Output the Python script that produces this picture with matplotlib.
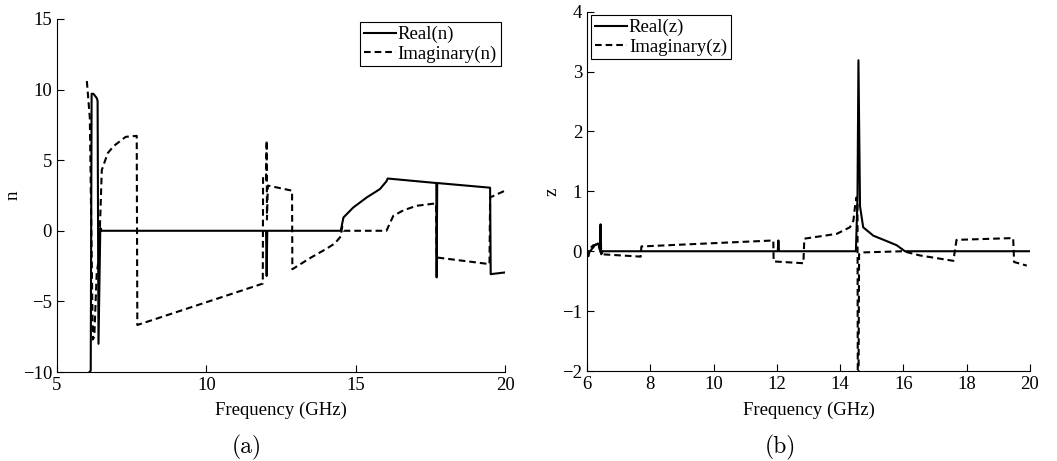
import matplotlib
matplotlib.use('Agg')
import matplotlib.pyplot as plt

plt.rcParams['font.family'] = ['Liberation Serif', 'DejaVu Serif']
plt.rcParams['font.size'] = 13.5
plt.rcParams['mathtext.fontset'] = 'cm'

# ---- panel (a): refractive index n ----
freq_n_re = [6.00, 6.13, 6.16, 6.22, 6.33, 6.36, 6.39, 6.45, 6.50, 12.00, 12.02, 12.04,
             14.50, 14.59, 14.92, 15.37, 15.81, 16.03, 16.07, 17.70, 17.71, 17.73,
             19.50, 19.52, 20.00]
n_re = [-10.2, -9.9, 9.7, 9.7, 9.4, 9.2, -8.0, 0.2, 0.0, 0.0, -3.2, 0.0,
        0.0, 0.94, 1.65, 2.36, 2.95, 3.5, 3.7, 3.38, -3.3, 3.38,
        3.05, -3.07, -2.95]

freq_n_im = [6.00, 6.10, 6.20, 6.25, 6.33, 6.40, 6.45, 6.50, 6.70, 6.90, 7.30, 7.67,
             7.69, 11.89, 11.90, 12.00, 12.02, 12.03, 12.06, 12.87, 12.88, 13.50,
             14.00, 14.30, 14.50, 14.55, 14.60, 16.03, 16.26, 16.60, 17.04, 17.69,
             17.71, 19.48, 19.50, 20.00]
n_im = [10.6, 8.0, -7.7, -7.5, -3.0, -2.0, 1.0, 4.3, 5.5, 6.0, 6.65, 6.72,
        -6.67, -3.74, 3.8, 3.6, 6.4, 0.8, 3.2, 2.84, -2.72, -1.9,
        -1.3, -0.9, -0.4, 0.3, 0.0, 0.0, 1.06, 1.45, 1.77, 1.94,
        -1.89, -2.36, 2.36, 2.84]

# ---- panel (b): impedance z ----
freq_z_re = [6.00, 6.10, 6.25, 6.35, 6.41, 6.43, 6.45, 6.50, 12.03, 12.05, 12.07,
             14.50, 14.55, 14.58, 14.63, 14.73, 15.05, 15.47, 15.79, 16.05, 20.00]
z_re = [0.0, 0.0, 0.10, 0.13, 0.05, 0.45, -0.05, 0.0, 0.0, 0.18, 0.0,
        0.0, 0.9, 3.19, 0.75, 0.40, 0.26, 0.17, 0.10, 0.0, 0.0]

freq_z_im = [6.00, 6.05, 6.10, 6.20, 6.35, 6.42, 6.45, 7.70, 7.72, 11.89, 11.90,
             12.84, 12.87, 13.89, 14.31, 14.42, 14.47, 14.52, 14.55, 14.56, 14.58,
             14.60, 14.68, 16.00, 16.52, 17.58, 17.68, 19.47, 19.50, 19.90]
z_im = [-0.08, -0.08, 0.05, 0.10, 0.12, 0.0, -0.05, -0.09, 0.08, 0.18, -0.17,
        -0.20, 0.21, 0.29, 0.40, 0.51, 0.74, 0.90, 0.80, -2.6, -2.6,
        -0.05, -0.02, 0.0, -0.07, -0.16, 0.19, 0.22, -0.18, -0.24]

dash = (3.2, 1.9)


def style_axes(ax):
    ax.spines['top'].set_visible(False)
    ax.spines['right'].set_visible(False)
    ax.tick_params(direction='in', length=5, width=0.8, top=False, right=False)
    for s in ('left', 'bottom'):
        ax.spines[s].set_linewidth(0.8)


fig = plt.figure(figsize=(10.57, 4.61), dpi=100, facecolor='white')

ax1 = fig.add_axes([0.0539, 0.193, 0.4239, 0.766])
ax1.plot(freq_n_re, n_re, color='black', lw=1.5, label='Real(n)')
ax1.plot(freq_n_im, n_im, color='black', lw=1.5, dashes=dash, label='Imaginary(n)')
ax1.set_xlim(5, 20)
ax1.set_ylim(-10, 15)
ax1.set_xticks([5, 10, 15, 20])
ax1.set_yticks([-10, -5, 0, 5, 10, 15])
ax1.set_xlabel('Frequency (GHz)')
ax1.set_ylabel('n', va='center')
ax1.xaxis.set_label_coords(0.5, -0.085)
ax1.yaxis.set_label_coords(-0.098, 0.5)
style_axes(ax1)
leg1 = ax1.legend(loc='upper right', bbox_to_anchor=(0.99, 0.99), fancybox=False,
                  edgecolor='black', framealpha=1, handlelength=1.7,
                  handletextpad=0.1, borderpad=0.2, labelspacing=0.1,
                  borderaxespad=0)
leg1.get_frame().set_linewidth(0.8)

ax2 = fig.add_axes([0.5553, 0.1952, 0.4191, 0.7794])
ax2.plot(freq_z_re, z_re, color='black', lw=1.5, label='Real(z)')
ax2.plot(freq_z_im, z_im, color='black', lw=1.5, dashes=dash, label='Imaginary(z)')
ax2.set_xlim(6, 20)
ax2.set_ylim(-2, 4)
ax2.set_xticks([6, 8, 10, 12, 14, 16, 18, 20])
ax2.set_yticks([-2, -1, 0, 1, 2, 3, 4])
ax2.set_xlabel('Frequency (GHz)')
ax2.set_ylabel('z', va='center')
ax2.xaxis.set_label_coords(0.5, -0.086)
ax2.yaxis.set_label_coords(-0.079, 0.5)
style_axes(ax2)
leg2 = ax2.legend(loc='upper left', bbox_to_anchor=(0.01, 0.99), fancybox=False,
                  edgecolor='black', framealpha=1, handlelength=1.7,
                  handletextpad=0.1, borderpad=0.2, labelspacing=0.1,
                  borderaxespad=0)
leg2.get_frame().set_linewidth(0.8)

fig.text(247 / 1057, 1 - 447 / 461, '(a)', family='cmr10', fontsize=17,
         ha='center', va='center')
fig.text(780 / 1057, 1 - 447 / 461, '(b)', family='cmr10', fontsize=17,
         ha='center', va='center')

fig.savefig('out.png', dpi=100, facecolor='white')
